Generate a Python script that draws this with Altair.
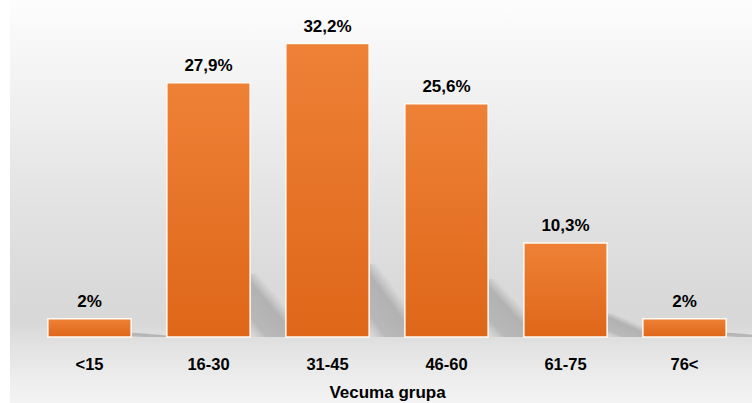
import altair as alt
import pandas as pd

# Age groups and their share of respondents (%)
groups = ["<15", "16-30", "31-45", "46-60", "61-75", "76<"]
shares = [2.0, 27.9, 32.2, 25.6, 10.3, 2.0]
axis_title = "Vecuma grupa"

def fmt(v):
    return f"{v:g}".replace(".", ",") + "%"

df = pd.DataFrame({
    "group": groups,
    "share": shares,
    "label": [fmt(v) for v in shares],
})

FONT = "Liberation Sans"

x_enc = alt.X(
    "group:N",
    sort=groups,
    scale=alt.Scale(paddingInner=0.3, paddingOuter=0.15),
    axis=alt.Axis(
        title=axis_title,
        labelAngle=0,
        labelFont=FONT,
        labelFontSize=16.5,
        labelFontWeight="bold",
        labelColor="#000000",
        labelPadding=19,
        ticks=False,
        tickSize=0,
        domain=False,
        grid=False,
        titleFont=FONT,
        titleFontSize=17,
        titleFontWeight="bold",
        titleColor="#000000",
        titlePadding=12,
        zindex=1,
    ),
)
y_scale = alt.Scale(domain=[0, 35])
y_enc = alt.Y("share:Q", scale=y_scale, axis=None)

# Soft grey panel behind the plot
panel = alt.Chart(pd.DataFrame({"k": [0]})).mark_rect(
    fill=alt.Gradient(
        gradient="linear",
        x1=0, y1=0, x2=0, y2=1,
        stops=[
            alt.GradientStop(offset=0.0, color="#fdfdfd"),
            alt.GradientStop(offset=0.25, color="#f0f0f0"),
            alt.GradientStop(offset=0.5, color="#e3e3e3"),
            alt.GradientStop(offset=0.7, color="#dadada"),
            alt.GradientStop(offset=0.8, color="#d8d8d8"),
            alt.GradientStop(offset=0.87, color="#e4e4e4"),
            alt.GradientStop(offset=0.95, color="#eeeeee"),
            alt.GradientStop(offset=1.0, color="#f3f3f3"),
        ],
    )
).encode(
    x=alt.value(-20), x2=alt.value(722),
    y=alt.value(-18), y2=alt.value(385),
)

# Diagonal drop shadows cast to the right of each bar
shadow = alt.Chart(df).transform_calculate(
    top="datum.share * 0.25"
).mark_bar(
    width=40,
    xOffset=62,
    fill=alt.Gradient(
        gradient="linear",
        x1=0.85, y1=0, x2=0.1, y2=1,
        stops=[
            alt.GradientStop(offset=0.0, color="rgba(170,170,170,0)"),
            alt.GradientStop(offset=0.32, color="rgba(170,170,170,0)"),
            alt.GradientStop(offset=0.5, color="rgba(165,165,165,0.75)"),
            alt.GradientStop(offset=0.85, color="rgba(170,170,170,0.7)"),
            alt.GradientStop(offset=1.0, color="rgba(200,200,200,0.4)"),
        ],
    ),
).encode(
    x=x_enc,
    y=alt.Y("top:Q", scale=y_scale, axis=None),
)

bars = alt.Chart(df).mark_bar(
    fill=alt.Gradient(
        gradient="linear",
        x1=0, y1=0, x2=0, y2=1,
        stops=[
            alt.GradientStop(offset=0.0, color="#ee8136"),
            alt.GradientStop(offset=1.0, color="#de6619"),
        ],
    ),
    stroke="#fffaf2",
    strokeWidth=1.5,
).encode(x=x_enc, y=y_enc)

text = alt.Chart(df).mark_text(
    font=FONT,
    fontSize=17,
    fontWeight="bold",
    color="#000000",
    baseline="alphabetic",
    dy=-12,
).encode(x=x_enc, y=y_enc, text="label:N")

chart = alt.layer(panel, shadow, bars, text).properties(
    width=714,
    height=319,
    padding={"left": 30, "top": 18, "right": 8, "bottom": 66},
    autosize=alt.AutoSizeParams(type="none"),
    background="#ffffff",
).configure_view(stroke=None)

chart.save("out.html", embed_options={"renderer": "svg", "actions": False})
